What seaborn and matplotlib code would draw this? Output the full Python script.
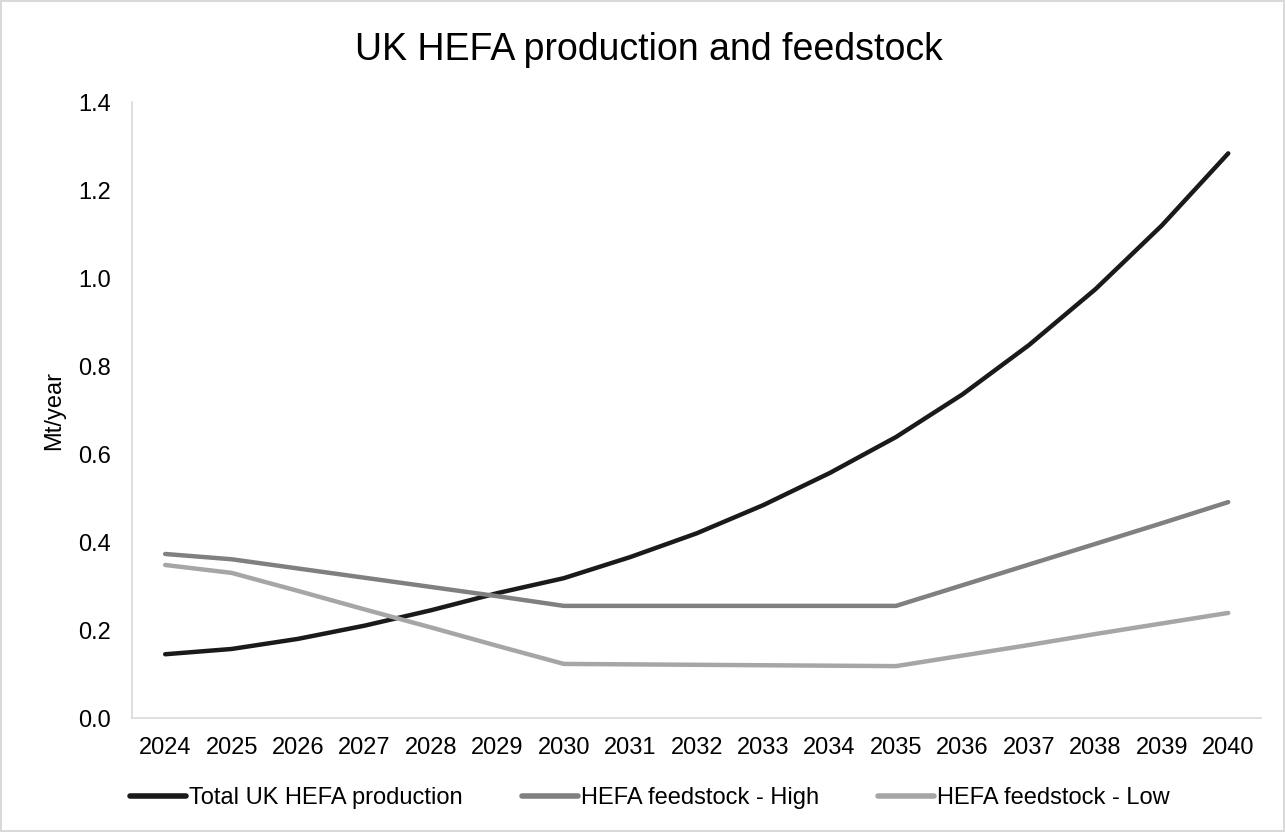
import matplotlib
matplotlib.use('Agg')
import matplotlib.pyplot as plt
import pandas as pd
import seaborn as sns

# Data =========================================================================

years = list(range(2024, 2041))
total_production = [0.145, 0.157, 0.180, 0.210, 0.245, 0.284, 0.318, 0.366,
                    0.420, 0.484, 0.557, 0.639, 0.736, 0.848, 0.975, 1.120,
                    1.284]
feedstock_high = [0.373, 0.361, 0.340, 0.319, 0.298, 0.277, 0.255, 0.255,
                  0.255, 0.255, 0.255, 0.255, 0.302, 0.349, 0.396, 0.443,
                  0.491]
feedstock_low = [0.348, 0.330, 0.289, 0.247, 0.206, 0.164, 0.123, 0.122,
                 0.121, 0.120, 0.119, 0.118, 0.142, 0.166, 0.191, 0.215,
                 0.239]
series_names = ['Total UK HEFA production', 'HEFA feedstock - High',
                'HEFA feedstock - Low']
colors = ['#1a1a1a', '#808080', '#a6a6a6']

# Plot =========================================================================

sns.set_style('white')
plt.rcParams['font.family'] = ['Liberation Sans', 'DejaVu Sans']
plt.rcParams['text.color'] = 'black'

df = pd.DataFrame({
    'Year': [str(y) for y in years] * 3,
    'Value': total_production + feedstock_high + feedstock_low,
    'Series': [s for s in series_names for _ in years],
})

fig = plt.figure(figsize=(12.85, 8.32), dpi=100)
fig.patch.set_edgecolor('#d9d9d9')
fig.patch.set_linewidth(1.5)
ax = fig.add_axes([0.1027, 0.137, 0.879, 0.740])

sns.lineplot(data=df, x='Year', y='Value', hue='Series', palette=colors,
             linewidth=3.2, ax=ax, sort=False)
for line in ax.get_lines():
    line.set_solid_capstyle('round')

ax.set_xlim(-0.5, len(years) - 0.5)
ax.set_ylim(0, 1.4)
ax.set_yticks([i * 0.2 for i in range(8)])
ax.set_yticklabels(['{:.1f}'.format(i * 0.2) for i in range(8)])
ax.tick_params(axis='both', labelsize=17, length=0, colors='black')
ax.tick_params(axis='x', pad=14)
ax.tick_params(axis='y', pad=15)
ax.set_xlabel('')
ax.set_ylabel('Mt/year', fontsize=17, color='black')
ax.yaxis.set_label_coords(-0.059, 0.5)

for side in ('top', 'right'):
    ax.spines[side].set_visible(False)
for side in ('left', 'bottom'):
    ax.spines[side].set_color('#d9d9d9')
    ax.spines[side].set_linewidth(1.2)

fig.text(0.505, 0.94, 'UK HEFA production and feedstock', fontsize=27,
         ha='center', va='center', color='black')

# legend entries spread out like the spreadsheet version
handles, labels = ax.get_legend_handles_labels()
ax.get_legend().remove()
legend_x = [0.101, 0.406, 0.683]
for h, lab, x in zip(handles, labels, legend_x):
    leg = fig.legend([h], [lab], loc='center left',
                     bbox_to_anchor=(x, 0.041), frameon=False, fontsize=17,
                     handlelength=2.4, handletextpad=0.1, borderpad=0,
                     borderaxespad=0)
    for ln in leg.get_lines():
        ln.set_linewidth(4)
        ln.set_solid_capstyle('round')

fig.savefig('out.png', dpi=100)
